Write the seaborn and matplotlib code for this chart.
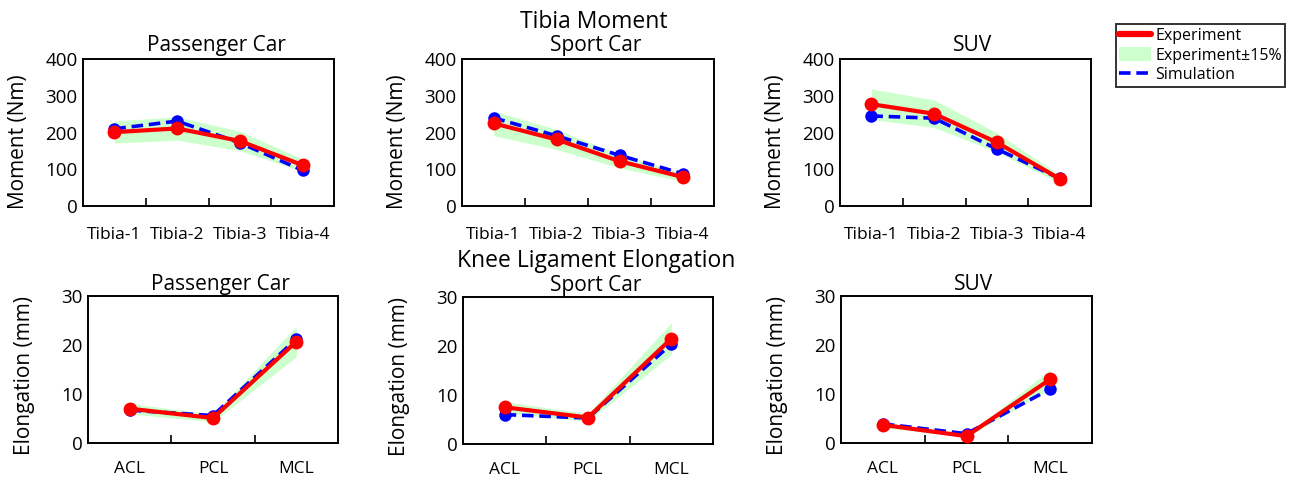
import numpy as np
import pandas as pd
import matplotlib
matplotlib.use("Agg")
import matplotlib.pyplot as plt
from matplotlib.lines import Line2D
from matplotlib.patches import Patch
import seaborn as sns

sns.set_style("white")
plt.rcParams['font.family'] = ['Open Sans', 'DejaVu Sans']
for k in ["text.color", "axes.labelcolor", "xtick.color", "ytick.color"]:
    plt.rcParams[k] = "black"

# ---------------- data ----------------
vehicles = ["Passenger Car", "Sport Car", "SUV"]
tibia_cats = ["Tibia-1", "Tibia-2", "Tibia-3", "Tibia-4"]
lig_cats = ["ACL", "PCL", "MCL"]

tibia_exp_passenger = [201, 211, 177, 111]
tibia_sim_passenger = [210, 231, 172, 97]
tibia_exp_sport = [225, 181, 122, 79]
tibia_sim_sport = [240, 191, 138, 88]
tibia_exp_suv = [277, 251, 173, 74]
tibia_sim_suv = [245, 239, 155, 75]

lig_exp_passenger = [7.0, 5.1, 20.7]
lig_sim_passenger = [6.7, 5.6, 21.2]
lig_exp_sport = [7.5, 5.4, 21.5]
lig_sim_sport = [6.0, 5.3, 20.4]
lig_exp_suv = [3.7, 1.4, 13.0]
lig_sim_suv = [3.9, 1.9, 11.0]

band_frac = 0.15

top_exp = [tibia_exp_passenger, tibia_exp_sport, tibia_exp_suv]
top_sim = [tibia_sim_passenger, tibia_sim_sport, tibia_sim_suv]
bot_exp = [lig_exp_passenger, lig_exp_sport, lig_exp_suv]
bot_sim = [lig_sim_passenger, lig_sim_sport, lig_sim_suv]

RED = "#ff0000"
BLUE = "#0000ff"
GREEN = "#ccffcc"

fig = plt.figure(figsize=(12.92, 4.8), dpi=100)

W, H = 1292, 480
def add_ax(l, t, r, b):
    return fig.add_axes([l / W, 1 - b / H, (r - l) / W, (b - t) / H])

top_boxes = [(83, 59, 334, 206), (462, 59, 714, 206), (840, 59, 1091, 206)]
bot_boxes = [(88, 296, 338, 443), (463, 297, 713, 444), (841, 296, 1092, 443)]

def draw(ax, cats, exp, sim, ymax, ystep, ylabel, title, xpad, tpad, ylab_x, ylab_y):
    exp = np.asarray(exp, float)
    df = pd.DataFrame({"cat": cats * 2,
                       "val": list(exp) + list(sim),
                       "series": ["Experiment"] * len(cats) + ["Simulation"] * len(cats)})
    x = np.arange(len(cats))
    ax.fill_between(x, exp * (1 - band_frac), exp * (1 + band_frac),
                    color=GREEN, lw=0, zorder=1)
    sns.lineplot(data=df[df.series == "Simulation"], x="cat", y="val", ax=ax,
                 color=BLUE, lw=2.6, linestyle=(0, (3.2, 1.6)), marker="o",
                 markersize=9, markeredgewidth=0, sort=False, zorder=2)
    sns.lineplot(data=df[df.series == "Experiment"], x="cat", y="val", ax=ax,
                 color=RED, lw=3.0, marker="o", markersize=10,
                 markeredgewidth=0, sort=False, zorder=3)
    ax.set_xlim(-0.5, len(cats) - 0.5)
    ax.set_ylim(0, ymax)
    ax.set_yticks(np.arange(0, ymax + 1, ystep))
    ax.set_xticks(x)
    ax.set_xticklabels(cats)
    ax.set_xticks(np.arange(0.5, len(cats) - 1, 1), minor=True)
    ax.tick_params(axis="x", which="major", length=0, pad=xpad, labelsize=12.5)
    ax.tick_params(axis="x", which="minor", direction="in", length=6,
                   width=1.2, color="black", bottom=True)
    ax.tick_params(axis="y", length=0, pad=4, labelsize=13.5)
    ax.set_xlabel("")
    ax.set_ylabel(ylabel, fontsize=15)
    ax.yaxis.set_label_coords(ylab_x, ylab_y)
    ax.set_title(title, fontsize=15, pad=tpad, x=0.53)
    for s in ax.spines.values():
        s.set_visible(True)
        s.set_color("black")
        s.set_linewidth(1.4)
    if ax.get_legend() is not None:
        ax.get_legend().remove()
    ax.grid(False)

for i in range(3):
    ax = add_ax(*top_boxes[i])
    draw(ax, tibia_cats, top_exp[i], top_sim[i], 400, 100, "Moment (Nm)",
         vehicles[i], 15, 6, -0.215, 0.44)
for i in range(3):
    ax = add_ax(*bot_boxes[i])
    draw(ax, lig_cats, bot_exp[i], bot_sim[i], 30, 10, "Elongation (mm)",
         vehicles[i], 13, 4, -0.21, 0.46)

fig.text(594 / W, 1 - 22 / H, "Tibia Moment", ha="center", va="center", fontsize=16.5)
fig.text(596 / W, 1 - 261 / H, "Knee Ligament Elongation", ha="center", va="center",
         fontsize=16.5)

handles = [Line2D([0], [0], color=RED, lw=4.5),
           Patch(facecolor=GREEN, edgecolor="none"),
           Line2D([0], [0], color=BLUE, lw=2.6, linestyle=(0, (3.2, 1.6)))]
labels = ["Experiment", "Experiment±15%", "Simulation"]
leg = fig.legend(handles, labels, loc="upper left",
                 bbox_to_anchor=(1116 / W, 1 - 24 / H), fontsize=11.5,
                 frameon=True, fancybox=False, borderaxespad=0, borderpad=0.2,
                 handlelength=2.0, handletextpad=0.25, labelspacing=0.2,
                 handleheight=1.0)
leg.get_frame().set_edgecolor("black")
leg.get_frame().set_linewidth(1.4)

fig.savefig("out.png", dpi=100)
